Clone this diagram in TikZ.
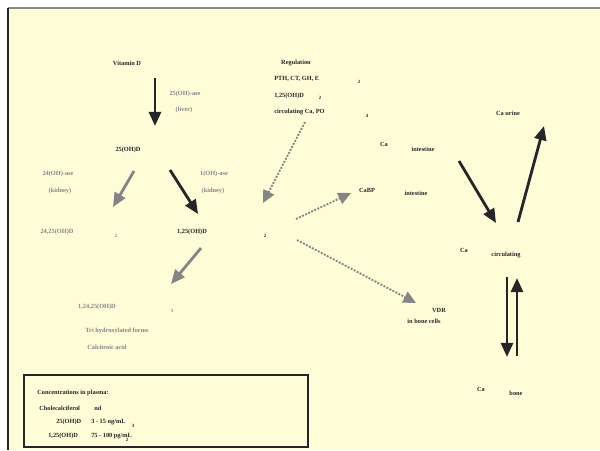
\documentclass[tikz,border=0pt]{standalone}
\usepackage{fontspec}
\setmainfont{Liberation Serif}
\usetikzlibrary{arrows.meta}
\definecolor{bg}{HTML}{FFFCD8}
\definecolor{ink}{HTML}{262626}
\definecolor{gr}{HTML}{858585}
\definecolor{frame}{HTML}{8A8A80}
\begin{document}
\begin{tikzpicture}[x=0.025cm,y=-0.025cm,
  lbl/.style={font=\fontsize{4.5}{5}\selectfont\bfseries, text=ink, inner sep=0pt},
  glbl/.style={lbl, text=gr},
  sub/.style={font=\fontsize{3.4}{4}\selectfont\bfseries, text=ink, inner sep=0pt},
  gsub/.style={sub, text=gr},
  blackarrow/.style={draw=ink, line width=2pt, -{Triangle[length=10pt,width=8.5pt]}},
  grayarrow/.style={draw=gr, line width=2pt, -{Triangle[length=10pt,width=8.5pt]}},
  dotarrow/.style={draw=gr, line width=1.3pt, dash pattern=on 1.4pt off 1pt, -{Triangle[length=9pt,width=8.5pt]}}]
\useasboundingbox (0,0) rectangle (600,450);
\fill[white] (0,0) rectangle (600,450);
\fill[bg] (8,8) rectangle (600,450);
\draw[frame, line width=1pt] (8,8) -- (600,8);
\draw[ink, line width=0.8pt] (8,8) -- (8,450);

% --- texts ---
\node[lbl] (vitd) at (127,63) {Vitamin D};
\node[glbl] (ase25) at (185,94) {25(OH)-ase};
\node[glbl] (liver) at (184,110) {(liver)};
\node[lbl] (reg) at (296,63) {Regulation};
\node[lbl, anchor=west] (pth) at (274,79) {PTH, CT, GH, E};
\node[sub] (pths) at (359,82) {2};
\node[lbl, anchor=west] (r125) at (274,96) {1,25(OH)D};
\node[sub] (r125s) at (320,98) {2};
\node[lbl, anchor=west] (circ) at (274,112) {circulating Ca, PO};
\node[sub] (circs) at (367,116) {4};
\node[lbl] (d25) at (128,150) {25(OH)D};
\node[glbl] (ase24) at (58,174) {24(OH)-ase};
\node[glbl] (kid1) at (60,191) {(kidney)};
\node[glbl] (ase1) at (214,174) {1(OH)-ase};
\node[glbl] (kid2) at (213,191) {(kidney)};
\node[glbl] (d2425) at (57,232) {24,25(OH)D};
\node[gsub] (d2425s) at (116,236) {2};
\node[lbl] (d125) at (192,232) {1,25(OH)D};
\node[sub] (d125s) at (265,236) {2};
\node[glbl] (d12425) at (97,307) {1,24,25(OH)D};
\node[gsub] (d12425s) at (172,311) {3};
\node[glbl] (tri) at (117,331) {Tri hydroxylated forms};
\node[glbl] (calc) at (107,347) {Calcitroic acid};
\node[lbl] (ca1) at (384,144) {Ca};
\node[lbl] (int1) at (423,149) {intestine};
\node[lbl] (cabp) at (367,190) {CaBP};
\node[lbl] (int2) at (416,193) {intestine};
\node[lbl] (caur) at (508,113) {Ca urine};
\node[lbl] (ca2) at (464,250) {Ca};
\node[lbl] (circ2) at (506,255) {circulating};
\node[lbl] (vdr) at (439,310) {VDR};
\node[lbl] (bcells) at (424,321) {in bone cells};
\node[lbl] (ca3) at (481,389) {Ca};
\node[lbl] (bone) at (516,393) {bone};

% --- plasma box ---
\draw[ink, line width=1.1pt] (24,375) rectangle (308,447);
\node[lbl] (conc) at (73,393) {Concentrations in plasma:};
\node[lbl, anchor=west] (chol) at (39,408) {Cholecalciferol};
\node[lbl, anchor=west] (nd) at (94,408) {nd};
\node[lbl, anchor=west] (p25) at (56,422) {25(OH)D};
\node[lbl, anchor=west] (p25v) at (91,422) {3 - 15 ng/mL};
\node[sub] (p25s) at (133,426) {3};
\node[lbl, anchor=west] (p125) at (48,436) {1,25(OH)D};
\node[lbl, anchor=west] (p125v) at (91,436) {75 - 100 pg/mL};
\node[sub] (p125s) at (127,440) {2};

% --- arrow end points ---
\coordinate (a1s) at (155,78);   \coordinate (a1e) at (155,126);
\coordinate (a2s) at (134,171);  \coordinate (a2e) at (113,207);
\coordinate (a3s) at (170,170);  \coordinate (a3e) at (198,214);
\coordinate (a4s) at (201,248);  \coordinate (a4e) at (171,284);
\coordinate (d1s) at (305,122);  \coordinate (d1e) at (263,203);
\coordinate (d2s) at (296,219);  \coordinate (d2e) at (351,193);
\coordinate (d3s) at (297,240);  \coordinate (d3e) at (416,303);
\coordinate (b1s) at (459,161);  \coordinate (b1e) at (496,223);
\coordinate (b2s) at (518,222);  \coordinate (b2e) at (544,126);
\coordinate (b3s) at (507,277);  \coordinate (b3e) at (507,357);
\coordinate (b4s) at (517,356);  \coordinate (b4e) at (517,278);

\draw[blackarrow] (a1s) -- (a1e);
\draw[grayarrow] (a2s) -- (a2e);
\draw[blackarrow] (a3s) -- (a3e);
\draw[grayarrow] (a4s) -- (a4e);
\draw[dotarrow] (d1s) -- (d1e);
\draw[dotarrow] (d2s) -- (d2e);
\draw[dotarrow] (d3s) -- (d3e);
\draw[blackarrow] (b1s) -- (b1e);
\draw[blackarrow] (b2s) -- (b2e);
\draw[blackarrow] (b3s) -- (b3e);
\draw[blackarrow] (b4s) -- (b4e);
\end{tikzpicture}
\end{document}
